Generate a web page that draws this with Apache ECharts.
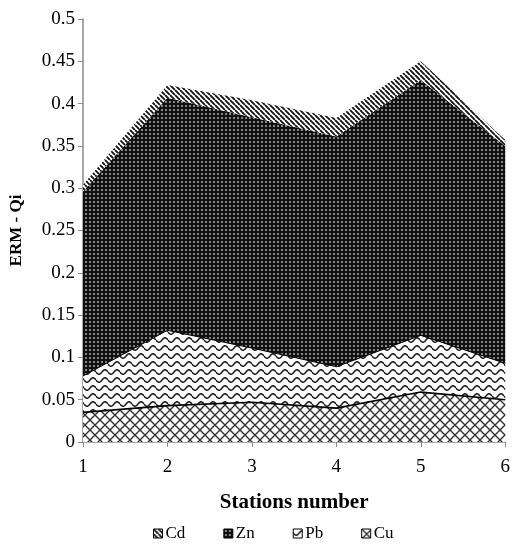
<!DOCTYPE html>
<html>
<head>
<meta charset="utf-8">
<script src="https://cdn.jsdelivr.net/npm/echarts@6/dist/echarts.min.js"></script>
<style>html,body{margin:0;padding:0;background:#fff;}#c{width:513px;height:550px;}</style>
</head>
<body>
<div id="c"></div>
<script>
const stations = ['1', '2', '3', '4', '5', '6'];
const cu = [0.035, 0.043, 0.047, 0.040, 0.059, 0.050];
const pb = [0.043, 0.089, 0.064, 0.049, 0.067, 0.043];
const zn = [0.218, 0.275, 0.273, 0.272, 0.302, 0.257];
const cd = [0.008, 0.015, 0.020, 0.022, 0.022, 0.007];
const legendOrder = ['Cd', 'Zn', 'Pb', 'Cu'];

function tile(w, h, draw) {
  const c = document.createElement('canvas');
  c.width = w; c.height = h;
  draw(c.getContext('2d'), w, h);
  return { image: c, repeat: 'repeat' };
}
const crossPat = tile(10, 10, (g, w, h) => {
  g.fillStyle = '#fff'; g.fillRect(0, 0, w, h);
  g.strokeStyle = '#333'; g.lineWidth = 1.4;
  g.beginPath();
  g.moveTo(0, 0); g.lineTo(w, h);
  g.moveTo(w, 0); g.lineTo(0, h);
  g.stroke();
});
const wavePat = tile(12, 8, (g, w, h) => {
  g.fillStyle = '#fff'; g.fillRect(0, 0, w, h);
  g.strokeStyle = '#222'; g.lineWidth = 1.6;
  g.beginPath();
  for (let x = 0; x <= w; x += 0.5) {
    const y = 4 + 2.2 * Math.sin(2 * Math.PI * x / w);
    if (x === 0) g.moveTo(x, y); else g.lineTo(x, y);
  }
  g.stroke();
});
const dotPat = tile(4, 4, (g, w, h) => {
  g.fillStyle = '#111'; g.fillRect(0, 0, w, h);
  g.fillStyle = '#b8b8b8';
  g.beginPath(); g.arc(2, 2, 0.95, 0, Math.PI * 2); g.fill();
});
const stripePat = tile(5, 5, (g, w, h) => {
  g.fillStyle = '#fff'; g.fillRect(0, 0, w, h);
  g.strokeStyle = '#111'; g.lineWidth = 1.8;
  g.beginPath();
  for (let i = -1; i <= 1; i++) {
    g.moveTo(i * w, 0); g.lineTo(i * w + w, h);
  }
  g.stroke();
});

const font = 'Liberation Serif';
const chart = echarts.init(document.getElementById('c'), null, { renderer: 'canvas' });

function areaSeries(name, data, pat, lineW) {
  return {
    name, type: 'line', stack: 'total', data,
    symbol: 'none', smooth: false,
    lineStyle: { color: '#000', width: lineW, opacity: lineW ? 1 : 0 },
    itemStyle: { color: pat },
    areaStyle: { color: pat, opacity: 1 },
    emphasis: { disabled: true }
  };
}

chart.setOption({
  animation: false,
  backgroundColor: '#fff',
  grid: { left: 82, right: 5, top: 19, bottom: 108, containLabel: false },
  legend: {
    data: legendOrder,
    bottom: 3, left: 148,
    itemWidth: 9, itemHeight: 9, itemGap: 38,
    icon: 'rect',
    textStyle: { fontFamily: font, fontSize: 17, color: '#000', padding: [0, 0, 0, -2] },
    itemStyle: { borderColor: '#000', borderWidth: 1 }
  },
  xAxis: {
    type: 'category', data: stations, boundaryGap: false,
    name: 'Stations number', nameLocation: 'middle', nameGap: 50,
    nameTextStyle: { fontFamily: font, fontSize: 21, fontWeight: 'bold', color: '#000' },
    axisLine: { lineStyle: { color: '#8c8c8c', width: 1.5 } },
    axisTick: { show: true, alignWithLabel: true, length: 5, lineStyle: { color: '#8c8c8c' } },
    axisLabel: { fontFamily: font, fontSize: 19, color: '#000', margin: 16 },
    splitLine: { show: false }
  },
  yAxis: {
    type: 'value', min: 0, max: 0.5, interval: 0.05,
    name: 'ERM - Qi', nameLocation: 'middle', nameGap: 58, nameRotate: 90,
    nameTextStyle: { fontFamily: font, fontSize: 17, fontWeight: 'bold', color: '#000' },
    axisLine: { show: true, lineStyle: { color: '#8c8c8c', width: 1.5 } },
    axisTick: { show: true, length: 5, lineStyle: { color: '#8c8c8c' } },
    axisLabel: { fontFamily: font, fontSize: 19, color: '#000', margin: 8,
      formatter: v => String(+v.toFixed(2)) },
    splitLine: { show: false }
  },
  series: [
    areaSeries('Cu', cu, crossPat, 1.6),
    areaSeries('Pb', pb, wavePat, 1),
    areaSeries('Zn', zn, dotPat, 0),
    areaSeries('Cd', cd, stripePat, 0)
  ]
});
</script>
</body>
</html>
